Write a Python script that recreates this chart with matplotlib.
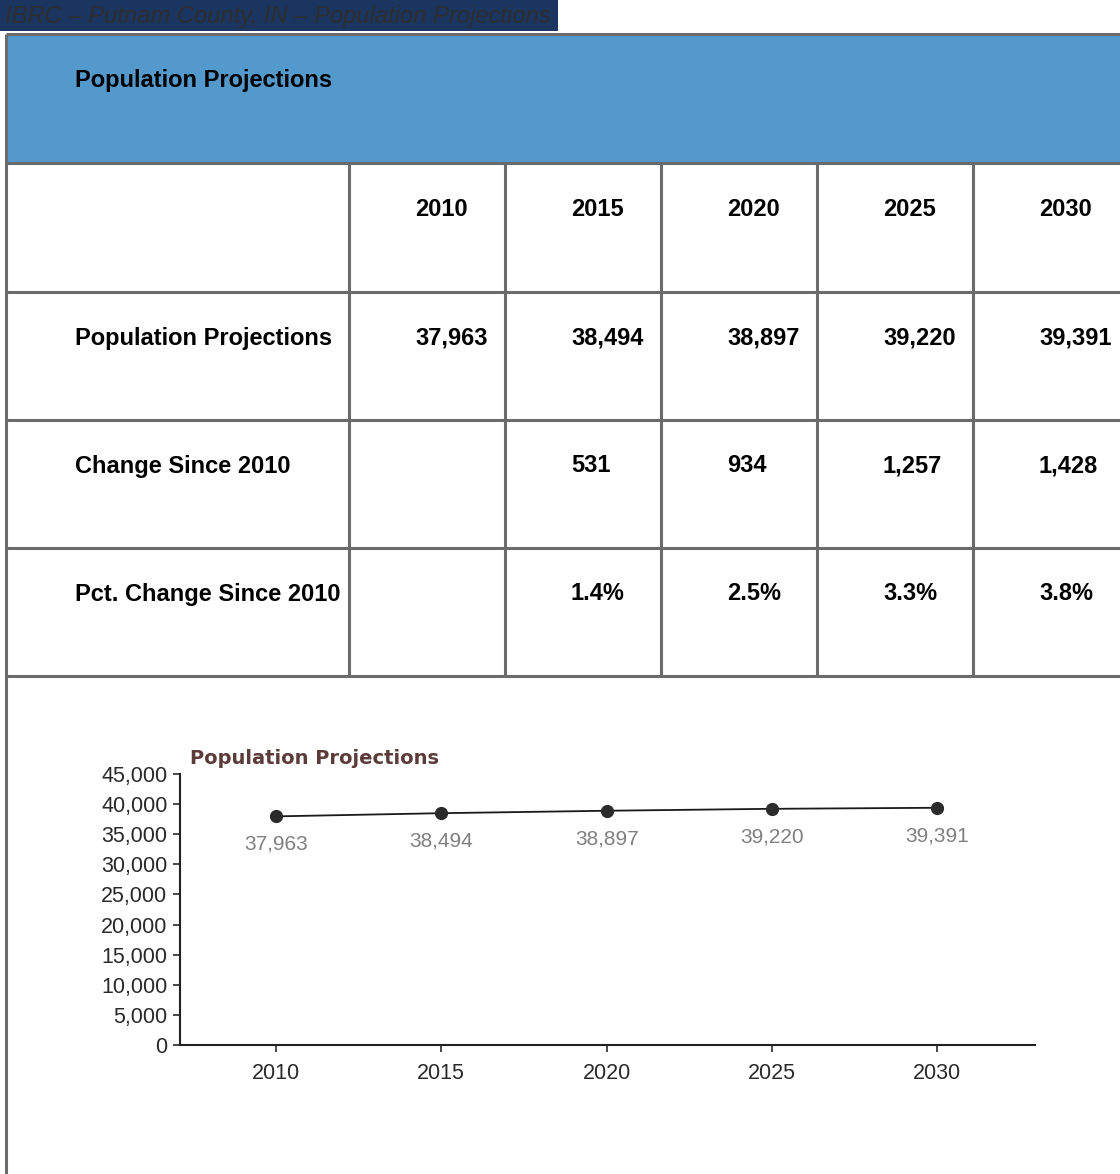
import numpy as np
import matplotlib
matplotlib.use("Agg")
from matplotlib import pyplot as plt
from matplotlib.patches import Rectangle

plt.rcParams['font.family'] = ['Liberation Sans', 'DejaVu Sans']

# table content
years = ['2010', '2015', '2020', '2025', '2030']
row_labels = ['Population Projections', 'Change Since 2010', 'Pct. Change Since 2010']
population = [37963, 38494, 38897, 39220, 39391]
change = ['', '531', '934', '1,257', '1,428']
pct_change = ['', '1.4%', '2.5%', '3.3%', '3.8%']
y_ticks = [0, 5000, 10000, 15000, 20000, 25000, 30000, 35000, 40000, 45000]

W, H = 1120, 1174
fig = plt.figure(figsize=(W / 100, H / 100), dpi=100)
fig.patch.set_facecolor('white')

# full-figure axes in pixel coords for the table
bg = fig.add_axes([0, 0, 1, 1])
bg.set_xlim(0, W)
bg.set_ylim(H, 0)
bg.axis('off')

line_c = '#6b6b6b'
lw = 2.2

# page title bar
bg.add_patch(Rectangle((0, 0), 558, 31, facecolor='#1b3561', edgecolor='none'))
bg.text(5, 17, 'IBRC – Putnam County, IN – Population Projections', fontsize=17.1,
        style='italic', color='#2e2e2e', va='center', ha='left')

# blue header row
bg.add_patch(Rectangle((7, 35), W - 7, 128, facecolor='#5499cb', edgecolor='none'))
bg.text(75, 80, 'Population Projections', fontsize=17, fontweight='bold', va='center')

col_x = [349, 505, 661, 817, 973]
row_y = [163, 292, 420, 548, 676]

# grid lines
bg.plot([6, 6], [34, H], color=line_c, lw=lw, solid_capstyle='butt')
bg.plot([6, W], [34, 34], color=line_c, lw=lw, solid_capstyle='butt')
for y in row_y:
    bg.plot([6, W], [y, y], color=line_c, lw=lw, solid_capstyle='butt')
for x in col_x:
    bg.plot([x, x], [163, 676], color=line_c, lw=lw, solid_capstyle='butt')

# cell text
pop_txt = ['{:,}'.format(v) for v in population]
rows = [years, pop_txt, change, pct_change]
for r, vals in enumerate(rows):
    yc = row_y[r] + 46
    if r > 0:
        bg.text(75, yc, row_labels[r - 1], fontsize=17, fontweight='bold', va='center')
    for c, v in enumerate(vals):
        bg.text(col_x[c] + 66, yc, v, fontsize=17, fontweight='bold', va='center')

# line chart
ax = fig.add_axes([180 / W, (H - 1045) / H, 855 / W, 271 / H])
xs = np.arange(len(years))
ax.plot(xs, population, color='#1a1a1a', lw=1.3, marker='o', ms=8.5,
        markerfacecolor='#2b2b2b', markeredgecolor='#2b2b2b', zorder=3)
for x, v in zip(xs, population):
    ax.annotate('{:,}'.format(v), (x, v), xytext=(0, -20), textcoords='offset points',
                ha='center', va='center', fontsize=15, color='#808080')
ax.set_xlim(-0.58, 4.59)
ax.set_ylim(0, 45000)
ax.set_xticks(xs)
ax.set_xticklabels(years)
ax.set_yticks(y_ticks)
ax.set_yticklabels(['{:,}'.format(v) for v in y_ticks])
ax.tick_params(labelsize=15.5, colors='#2a2a2a', length=5, width=1.2, pad=4)
ax.tick_params(axis='x', pad=8)
for s in ['top', 'right']:
    ax.spines[s].set_visible(False)
for s in ['left', 'bottom']:
    ax.spines[s].set_linewidth(1.5)
    ax.spines[s].set_color('#222222')
ax.set_facecolor('none')
fig.text(190 / W, 1 - 758 / H, 'Population Projections', fontsize=14, fontweight='bold',
         color='#5c3b3b', family='DejaVu Sans', va='center', ha='left')

fig.savefig('out.png', dpi=100)
